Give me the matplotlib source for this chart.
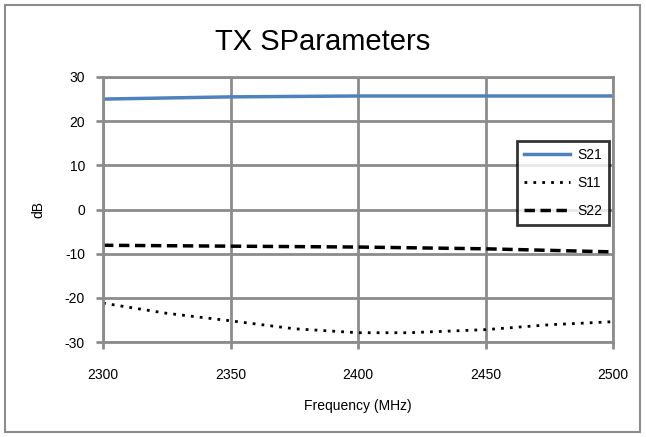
#!/usr/bin/env python3

import matplotlib.pyplot as plt
from matplotlib.patches import Rectangle

# data
freqS21 = [2300, 2350, 2400, 2450, 2500]
s21 = [25.0, 25.5, 25.7, 25.7, 25.7]

freqS11 = [2300, 2325, 2350, 2375, 2400, 2420, 2450, 2475, 2500]
s11 = [-21.2, -23.5, -25.2, -27.0, -27.9, -27.9, -27.2, -26.1, -25.4]

freqS22 = [2300, 2350, 2400, 2450, 2500]
s22 = [-8.1, -8.3, -8.5, -8.9, -9.6]

xTicks = [2300, 2350, 2400, 2450, 2500]
yTicks = [-30, -20, -10, 0, 10, 20, 30]

plt.rcParams['font.family'] = ['Liberation Sans', 'DejaVu Sans']
plt.rcParams['axes.unicode_minus'] = False

gridGray = '#8c8c8c'

fig = plt.figure(figsize=(6.46, 4.37), dpi=100)
ax = fig.add_axes([103 / 646, 1 - 342 / 437, 510 / 646, 265 / 437])

# outer chart border
fig.patches.append(Rectangle((5 / 646, 5 / 437), 635 / 646, 427 / 437,
                             transform=fig.transFigure, fill=False,
                             edgecolor='#8c8c8c', linewidth=1.5))

ax.plot(freqS21, s21, color='#4f81bd', linewidth=2.5, label='S21')
ax.plot(freqS11, s11, color='black', linewidth=2, linestyle=(0, (1, 2.2)), label='S11')
ax.plot(freqS22, s22, color='black', linewidth=2.5, linestyle=(0, (3, 1.6)), label='S22')

ax.set_xlim(2300, 2500)
ax.set_ylim(-30, 30)
ax.set_xticks(xTicks)
ax.set_yticks(yTicks)
ax.grid(True, color=gridGray, linewidth=2)
ax.set_axisbelow(True)
for side in ax.spines.values():
    side.set_color(gridGray)
    side.set_linewidth(2)
ax.tick_params(axis='both', colors=gridGray, width=2, length=5, labelcolor='black',
               labelsize=10)
ax.tick_params(axis='x', pad=14)
ax.tick_params(axis='y', pad=8)

ax.set_xlabel('Frequency (MHz)', fontsize=10, labelpad=12)
ax.set_ylabel('dB', fontsize=10, labelpad=14)
fig.text(0.5, 1 - 42 / 437, 'TX SParameters', ha='center', va='center',
         fontsize=21, fontstretch='condensed')

leg = ax.legend(loc='upper right', bbox_to_anchor=(506 / 510, 1 - 64 / 265),
                fontsize=10, frameon=True, fancybox=False, handlelength=3.3,
                labelspacing=1.0, borderpad=0.5, handletextpad=0.5, borderaxespad=0)
leg.get_frame().set_edgecolor('black')
leg.get_frame().set_linewidth(2)

fig.savefig('out.png', dpi=100)
